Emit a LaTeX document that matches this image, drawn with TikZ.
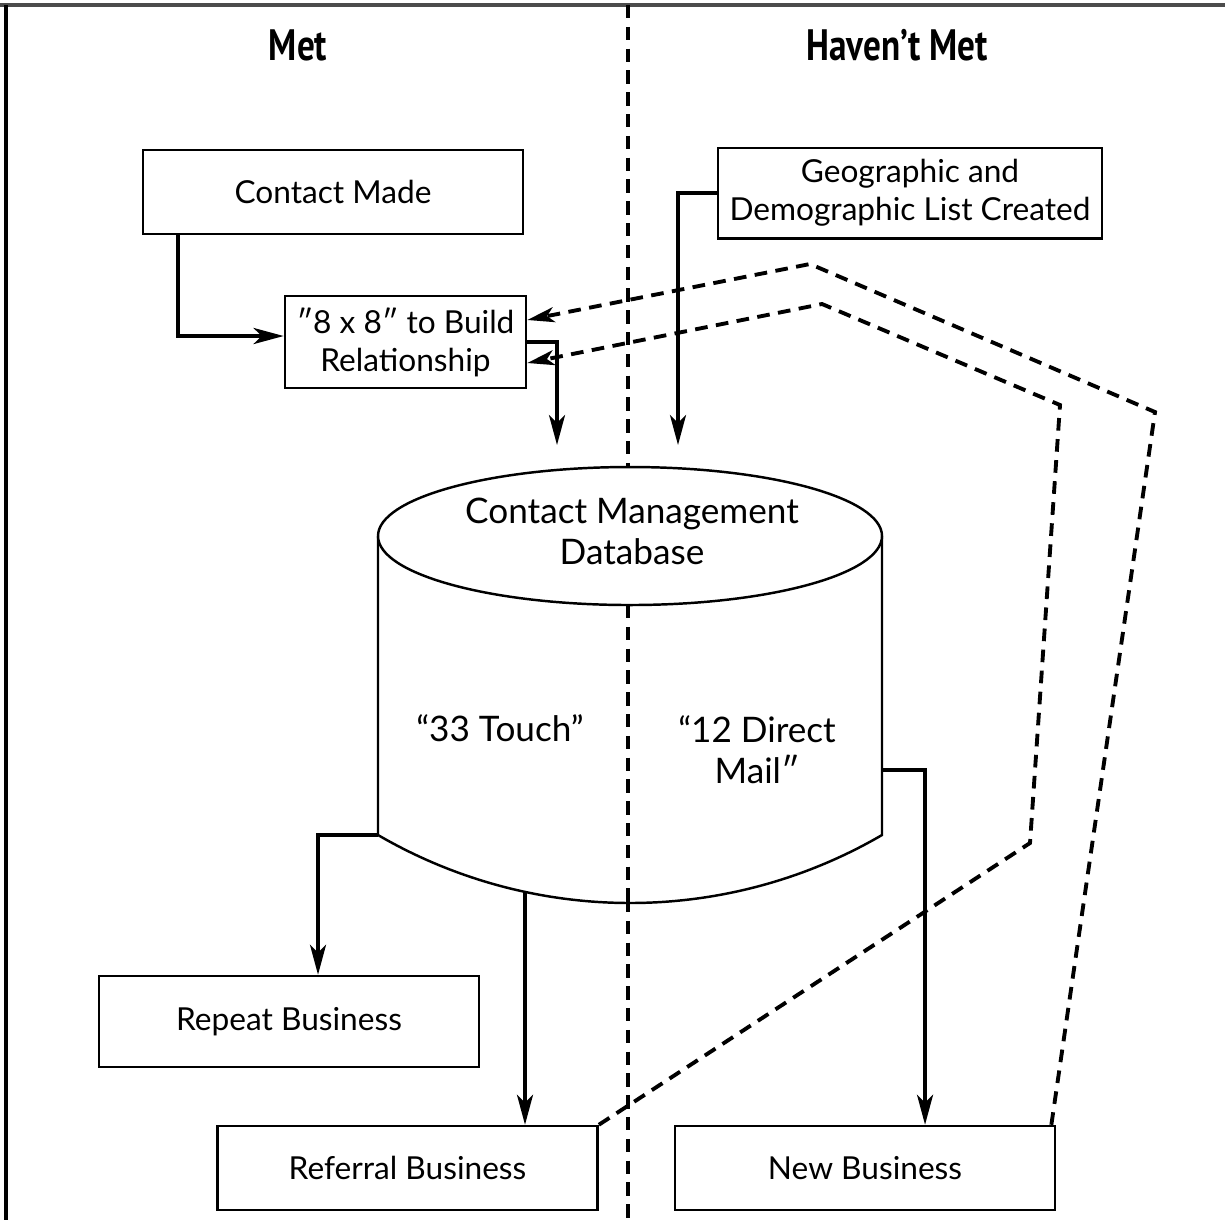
\documentclass[tikz,border=0pt]{standalone}
\usepackage{fontspec}
\setmainfont{Lato}
\newfontfamily\headfont{PT Sans}
\usetikzlibrary{arrows.meta}

\begin{document}
\begin{tikzpicture}[x=0.01cm, y=-0.01cm,
    box/.style={draw, line width=0.7pt, minimum width=3.8cm, minimum height=0.84cm,
      align=center, font=\fontsize{9}{10.8}\selectfont},
    head/.style={font=\headfont\bfseries\fontsize{12.5}{14}\selectfont},
    dbtext/.style={align=center, font=\fontsize{10}{11.7}\selectfont},
    arr/.style={line width=1.1pt, -{Stealth[length=0.3cm, width=0.16cm, inset=0.08cm]}},
    fb/.style={line width=1.1pt, dash pattern=on 3.6pt off 2.4pt,
      -{Stealth[length=0.27cm, width=0.15cm, inset=0.07cm]}},
    divider/.style={line width=1pt, dash pattern=on 3.8pt off 2.4pt}]
  \useasboundingbox (0,0) rectangle (1225,1220);

  % frame and divider
  \draw[gray!60!black, line width=1.2pt] (0,5) -- (1225,5);
  \draw[line width=1.2pt] (6,5) -- (6,1220);
  \draw[divider] (628,5) -- (628,1220);

  \node[head] (met) at (298,45) {\scalebox{0.8}[1]{Met}};
  \node[head] (notmet) at (897,45) {\scalebox{0.8}[1]{Haven’t Met}};

  % boxes
  \node[box] (contact) at (333,192) {Contact Made};
  \node[box, minimum width=2.37cm] (eight) at (405.5,342) {″8 x 8″ to Build\\Relationship};
  \node[box] (geo) at (910,193) {Geographic and\\Demographic List Created};
  \node[box, minimum height=0.91cm] (repeat) at (289,1021.5) {Repeat Business};
  \node[box] (referral) at (407.5,1168) {Referral Business};
  \node[box] (newbiz) at (865,1168) {New Business};

  % database cylinder
  \filldraw[fill=white, line width=0.7pt] (378,536) -- (378,835)
    arc[start angle=120.2, end angle=59.8, radius=501] -- (882,536);
  \filldraw[fill=white, line width=0.7pt] (630,536) ellipse[x radius=252, y radius=69];
  \draw[divider] (628,605) -- (628,903);
  \coordinate (cylL) at (378,835);
  \coordinate (cylB) at (525,892);
  \coordinate (cylR) at (882,770);
  \coordinate (dbin) at (557,445);
  \coordinate (geoin) at (678,445);
  \node[dbtext] (dbname) at (632,531) {Contact Management\\Database};
  \node[dbtext] (touch) at (500,728) {“33 Touch”};
  \node[dbtext] (mail) at (757,750) {“12 Direct\\Mail″};

  % connectors
  \draw[arr] ([xshift=0.36cm]contact.south west) |- ([yshift=0.06cm]eight.west);
  \draw[arr] (eight.east) -| (dbin);
  \draw[arr] (geo.west) -| (geoin);
  \draw[arr] (cylL) -| ([xshift=0.29cm]repeat.north);
  \draw[arr] (cylB) -- (cylB |- referral.north);
  \draw[arr] (cylR) -| ([xshift=0.6cm]newbiz.north);

  % feedback loops
  \draw[fb] (referral.north east) -- (1030,843) -- (1060,405) -- (822,304)
    -- ([yshift=-0.21cm]eight.east);
  \draw[fb] ([xshift=-0.05cm]newbiz.north east) -- (1155,412) -- (810,264)
    -- ([yshift=0.22cm]eight.east);
\end{tikzpicture}
\end{document}
